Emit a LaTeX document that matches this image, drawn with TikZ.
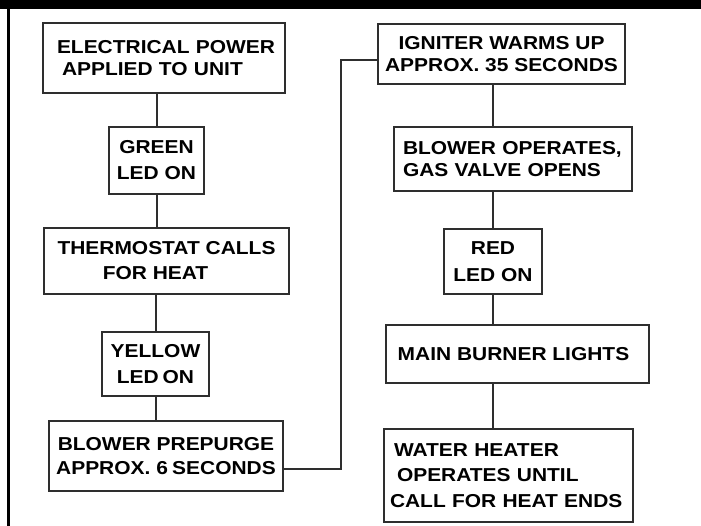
\documentclass[tikz,border=0pt]{standalone}
\usepackage{fontspec}
\setmainfont{Liberation Sans}[FakeStretch=1.12]
\begin{document}
\begin{tikzpicture}[x=1pt,y=-1pt,
  flow/.style={draw=black!82, line width=2pt, inner sep=0pt, text=black,
    font=\fontsize{18.7}{21}\selectfont\bfseries},
  lsp/.style={font=\fontsize{18.7}{#1}\selectfont\bfseries},
  wire/.style={draw=black!82, line width=2pt}]
\useasboundingbox (0,0) rectangle (701,526);
\fill[black] (0,0) rectangle (701,9.5);
\draw[line width=2.5pt, black] (8.5,9) -- (8.5,526);
% left column
\node[flow, lsp=22.5, minimum width=242, minimum height=70, text width=226, align=left] (e1) at (164,58)
  {\hspace*{6pt}ELECTRICAL POWER\\\hspace*{11pt}APPLIED TO UNIT};
\node[flow, lsp=26, minimum width=95, minimum height=67, align=center] (green) at (156.5,160.5)
  {GREEN\\LED ON};
\node[flow, lsp=25, minimum width=245, minimum height=66, align=center] (thermo) at (166.5,261)
  {THERMOSTAT CALLS\\FOR HEAT\hspace*{22pt}};
\node[flow, lsp=26, minimum width=107, minimum height=64, align=center] (yellow) at (155.5,364)
  {YELLOW\\LED\hspace{-2pt} ON};
\node[flow, lsp=24.5, minimum width=234, minimum height=70, align=center] (pre) at (166,456)
  {BLOWER PREPURGE\\APPROX.\ 6\hspace{-1.5pt} SECONDS};
% right column
\node[flow, lsp=22, minimum width=247, minimum height=60, align=center] (ign) at (501.5,54)
  {IGNITER WARMS UP\\APPROX. 35 SECONDS};
\node[flow, lsp=22, minimum width=238, minimum height=64, text width=226, align=left] (bop) at (513,159)
  {\hspace*{3pt}BLOWER OPERATES,\\\hspace*{3pt}GAS VALVE OPENS};
\node[flow, lsp=27, minimum width=98, minimum height=65, align=center] (red) at (493,261.5)
  {RED\\LED ON};
\node[flow, minimum width=263, minimum height=58, align=center] (mb) at (517.5,354)
  {\raisebox{-4pt}{MAIN BURNER LIGHTS}\hspace*{8pt}};
\node[flow, lsp=25.7, minimum width=249, minimum height=93, text width=241, align=left] (wh) at (508.5,475.5)
  {\hspace*{6pt}WATER HEATER\\\hspace*{9pt}OPERATES UNTIL\\\hspace*{2pt}CALL FOR HEAT ENDS};
% connectors
\draw[wire] (green.north) -- (green.north |- e1.south);
\draw[wire] (green.south) -- (green.south |- thermo.north);
\draw[wire] (yellow.north) -- (yellow.north |- thermo.south);
\draw[wire] (yellow.south) -- (yellow.south |- pre.north);
\coordinate (b1) at (341,469);
\coordinate (b2) at (341,60);
\draw[wire] (pre.east |- b1) -- (b1) -- (b2) -- (b2 -| ign.west);
\draw[wire] (red.north |- ign.south) -- (red.north |- bop.north);
\draw[wire] (red.north) -- (red.north |- bop.south);
\draw[wire] (red.south) -- (red.south |- mb.north);
\draw[wire] (red.south |- mb.south) -- (red.south |- wh.north);
\end{tikzpicture}
\end{document}
